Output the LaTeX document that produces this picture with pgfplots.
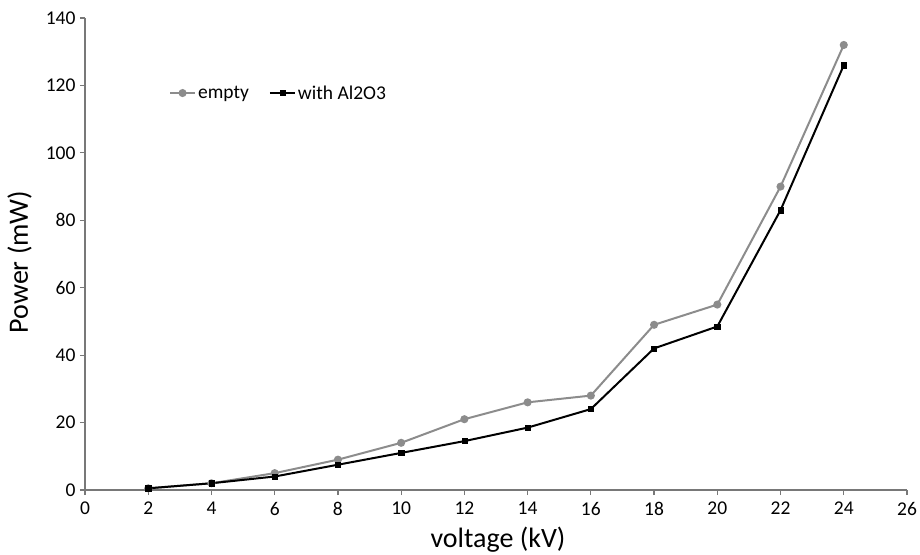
\documentclass[border=0pt]{standalone}
\usepackage{fontspec}
\setmainfont{Carlito}
\usepackage{pgfplots}
\pgfplotsset{compat=1.18}
\definecolor{sergray}{RGB}{140,140,140}
\definecolor{axgray}{RGB}{120,120,120}
\begin{document}
\begin{tikzpicture}
\begin{axis}[
  name=ax,
  scale only axis,
  width=822pt, height=472pt,
  xmin=0, xmax=26, ymin=0, ymax=140,
  xtick={0,2,...,26}, ytick={0,20,...,140},
  axis lines*=left,
  axis line style={axgray, line width=1.2pt},
  tick style={axgray, line width=1.2pt},
  tick align=outside,
  major tick length=5pt,
  x tick label style={font=\fontsize{19.5}{22}\selectfont, yshift=-3.5pt},
  y tick label style={font=\fontsize{19.5}{22}\selectfont, xshift=-1pt},
  /pgf/number format/assume math mode=true,
  xlabel={voltage (kV)},
  ylabel={Power (mW)},
  label style={font=\fontsize{28}{32}\selectfont},
  xlabel style={at={([xshift=2pt,yshift=-57pt]rel axis cs:0.5,0)}, anchor=base},
  ylabel style={at={([xshift=-57pt,yshift=-8pt]rel axis cs:0,0.5)}, anchor=base, rotate=0},
  legend columns=2,
  legend style={draw=none, fill=none, at={(rel axis cs:0.102,0.841)}, anchor=west,
    font=\fontsize{19.5}{22}\selectfont, inner sep=0pt,
    /tikz/every even column/.append style={column sep=18pt}},
  legend image code/.code={\draw[mark repeat=2,mark phase=2] plot coordinates {(0cm,0cm) (0.44cm,0cm) (0.88cm,0cm)};},
  clip=false,
]
\addplot[sergray, line width=2pt, mark=*, mark size=3pt, mark options={fill=sergray, draw=sergray}]
  coordinates {(2,0.5) (4,2) (6,5) (8,9) (10,14) (12,21) (14,26) (16,28) (18,49) (20,55) (22,90) (24,132)};
\addlegendentry{empty}
\addplot[black, line width=2pt, mark=square*, mark size=2.6pt, mark options={fill=black, draw=black, line width=0.5pt}]
  coordinates {(2,0.5) (4,2) (6,4) (8,7.5) (10,11) (12,14.5) (14,18.5) (16,24) (18,42) (20,48.5) (22,83) (24,126)};
\addlegendentry{with Al2O3}
\end{axis}
\pgfresetboundingbox
\path ([xshift=-85pt,yshift=-64pt]ax.south west) rectangle ([xshift=13pt,yshift=18pt]ax.north east);
\end{tikzpicture}
\end{document}
